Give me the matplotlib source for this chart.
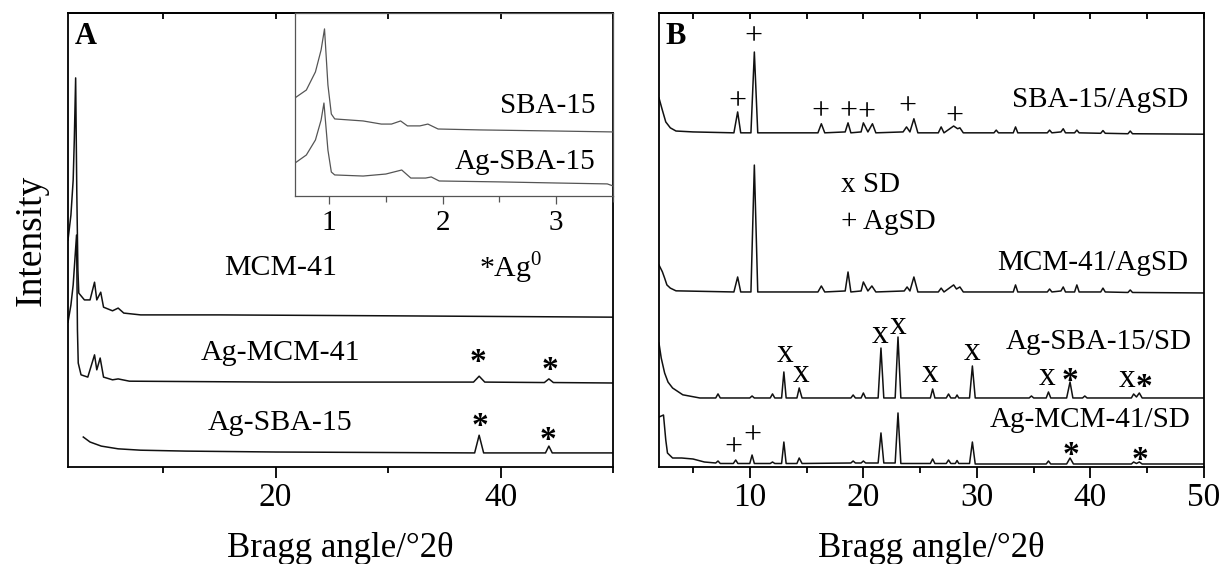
import matplotlib.pyplot as plt
from matplotlib.ticker import MultipleLocator, FixedLocator

plt.rcParams['font.family'] = ['Liberation Serif', 'DejaVu Serif']
plt.rcParams['mathtext.fontset'] = 'custom'
plt.rcParams['mathtext.rm'] = 'Liberation Serif'

# ---- panel A (wide angle, arbitrary intensity units 0-100) ----
a_mcm_x = [1.54, 1.8, 2.0, 2.1, 2.22, 2.32, 2.42, 2.5, 3.0, 3.5, 3.9, 4.1, 4.45, 4.7, 5.5, 6.0, 6.5, 8, 15, 30, 50]
a_mcm_y = [50.0, 55.5, 63.2, 72.0, 85.7, 61.0, 43.4, 38.3, 36.8, 36.8, 40.7, 36.8, 38.5, 35.2, 34.4, 35.0, 33.9, 33.5, 33.5, 33.3, 33.0]

a_agmcm_x = [1.54, 1.8, 2.0, 2.15, 2.3, 2.38, 2.45, 2.7, 3.3, 3.9, 4.1, 4.4, 4.7, 5.5, 6.0, 7, 20,
             37.6, 38.1, 38.6, 43.9, 44.3, 44.7, 50]
a_agmcm_y = [31.9, 35.7, 40.1, 45.6, 51.1, 30.2, 22.9, 20.3, 19.8, 24.7, 21.4, 24.0, 19.8, 19.2, 19.4, 18.9, 18.7,
             18.7, 20.0, 18.7, 18.6, 19.4, 18.6, 18.5]

a_agsba_x = [2.9, 3.5, 4.5, 6, 8, 12, 20, 37.7, 38.1, 38.5, 44.0, 44.3, 44.6, 50]
a_agsba_y = [6.6, 5.5, 4.6, 4.0, 3.7, 3.5, 3.3, 3.1, 7.0, 3.1, 3.1, 4.6, 3.1, 3.1]

# ---- inset (low angle) ----
i_sba_x = [0.7, 0.8, 0.88, 0.93, 0.96, 0.99, 1.02, 1.05, 1.3, 1.46, 1.55, 1.63, 1.69, 1.8, 1.87, 1.96, 2.33, 3.0, 3.5]
i_sba_y = [53.6, 57.9, 67.8, 79.8, 91.3, 60.7, 44.8, 42.1, 41.0, 39.3, 39.3, 41.0, 38.3, 38.3, 39.3, 36.6, 36.1, 35.5, 35.0]

i_agsba_x = [0.7, 0.8, 0.88, 0.93, 0.955, 0.99, 1.02, 1.05, 1.3, 1.5, 1.64, 1.72, 1.85, 1.9, 1.97, 2.5, 3.0, 3.45, 3.5]
i_agsba_y = [18.0, 22.4, 30.6, 41.5, 50.8, 25.1, 13.1, 11.5, 10.9, 12.0, 14.2, 9.8, 9.8, 10.4, 8.2, 7.7, 7.1, 6.6, 5.5]

# ---- panel B ----
b_sbaagsd_x = [2.0, 2.3, 2.6, 3.0, 3.5, 5, 8.6, 8.93, 9.2, 10.1, 10.4, 10.7, 16.0, 16.3, 16.6, 18.4, 18.65, 18.9,
               19.8, 20.0, 20.4, 20.8, 21.1, 23.5, 23.8, 24.1, 24.45, 24.8, 26.6, 26.85, 27.1, 27.95, 28.3, 28.5,
               28.8, 31.5, 31.7, 31.9, 33.2, 33.4, 33.6, 36.2, 36.4, 36.6, 37.4, 37.6, 37.8, 38.6, 38.8, 39.0,
               40.9, 41.1, 41.3, 43.3, 43.5, 43.7, 50]
b_sbaagsd_y = [81.3, 78.6, 76.0, 74.7, 74.0, 73.8, 73.6, 78.2, 73.6, 73.6, 91.4, 73.6, 73.6, 75.6, 73.6, 73.8, 75.8, 73.6,
               73.8, 75.8, 73.8, 75.6, 73.6, 73.8, 74.9, 73.8, 76.7, 73.6, 73.6, 74.9, 73.6, 75.1, 74.5, 74.7,
               73.6, 73.6, 74.2, 73.6, 73.6, 74.9, 73.6, 73.6, 74.2, 73.6, 73.8, 74.5, 73.6, 73.6, 74.2, 73.6,
               73.5, 74.1, 73.5, 73.4, 74.0, 73.4, 73.3]

b_mcmagsd_x = [2.0, 2.3, 2.5, 2.7, 3.0, 3.5, 8.6, 8.93, 9.2, 10.1, 10.4, 10.7, 16.0, 16.3, 16.6, 18.4, 18.65, 18.9,
               19.8, 20.0, 20.4, 20.75, 21.1, 23.6, 23.85, 24.1, 24.45, 24.8, 26.6, 26.85, 27.1, 27.95, 28.2, 28.5,
               28.8, 33.2, 33.4, 33.6, 36.2, 36.4, 36.6, 37.4, 37.6, 37.8, 38.6, 38.8, 39.0, 40.9, 41.1, 41.3,
               43.3, 43.5, 43.7, 50]
b_mcmagsd_y = [44.5, 43.0, 41.6, 40.1, 39.4, 38.8, 38.55, 41.85, 38.55, 38.55, 66.5, 38.55, 38.55, 39.87, 38.55, 38.77, 42.95, 38.55,
               38.77, 40.75, 38.77, 39.87, 38.55, 38.77, 39.65, 38.77, 41.85, 38.55, 38.55, 39.4, 38.55, 40.1, 39.2, 39.65,
               38.55, 38.55, 40.1, 38.55, 38.55, 39.2, 38.55, 38.77, 39.65, 38.55, 38.55, 40.1, 38.55, 38.55, 39.4, 38.55,
               38.44, 38.99, 38.44, 38.33]

b_agsbasd_x = [2.0, 2.2, 2.5, 2.8, 3.2, 4.1, 5.6, 7.0, 7.2, 7.4, 10.0, 10.2, 10.4, 11.8, 12.0, 12.2, 12.8, 13.0, 13.2,
               14.15, 14.35, 14.6, 18.9, 19.1, 19.3, 19.8, 20.0, 20.2, 21.3, 21.55, 21.8, 22.8, 23.05, 23.3,
               25.9, 26.1, 26.3, 27.3, 27.5, 27.7, 28.1, 28.25, 28.4, 29.35, 29.6, 29.85, 34.6, 34.8, 35.0,
               36.1, 36.3, 36.5, 37.9, 38.2, 38.45, 39.3, 39.5, 39.7, 43.6, 43.8, 44.05, 44.3, 44.55, 50]
b_agsbasd_y = [27.3, 24.0, 20.7, 18.7, 17.4, 15.9, 15.2, 15.2, 16.1, 15.2, 15.2, 15.64, 15.2, 15.2, 16.1, 15.2, 15.2, 20.93, 15.2,
               15.2, 17.4, 15.2, 15.2, 15.86, 15.2, 15.2, 16.3, 15.2, 15.2, 26.2, 15.2, 15.2, 28.63, 15.2,
               15.2, 17.18, 15.2, 15.2, 16.08, 15.2, 15.2, 15.86, 15.2, 15.2, 22.25, 15.2, 15.2, 15.64, 15.2,
               15.2, 16.52, 15.2, 15.2, 18.72, 15.2, 15.2, 15.64, 15.2, 15.2, 16.08, 15.42, 16.3, 15.2, 15.2]

b_agmcmsd_x = [2.0, 2.4, 2.6, 2.75, 3.2, 4.0, 5.0, 6.0, 7.0, 7.2, 7.4, 8.55, 8.76, 8.95, 10.0, 10.2, 10.4, 11.8, 12.0,
               12.2, 12.8, 13.0, 13.2, 14.15, 14.35, 14.6, 18.9, 19.1, 19.3, 19.8, 20.0, 20.2, 21.3, 21.55, 21.8,
               22.8, 23.05, 23.3, 25.9, 26.1, 26.3, 27.3, 27.5, 27.7, 28.1, 28.25, 28.4, 29.35, 29.6, 29.85,
               36.1, 36.3, 36.5, 37.9, 38.2, 38.5, 43.6, 43.8, 44.05, 44.3, 44.55, 50]
b_agmcmsd_y = [11.0, 11.45, 5.95, 3.08, 1.98, 1.98, 1.76, 1.1, 0.88, 1.32, 0.77, 0.77, 1.54, 0.77, 0.77, 2.64, 0.77, 0.77, 1.1,
               0.77, 0.77, 5.5, 0.77, 0.77, 1.98, 0.77, 0.88, 1.32, 0.88, 0.88, 1.32, 0.88, 0.88, 7.5, 0.88,
               0.88, 11.9, 0.77, 0.77, 1.76, 0.77, 0.77, 1.54, 0.77, 0.77, 1.43, 0.77, 0.77, 5.5, 0.66,
               0.66, 1.32, 0.66, 0.66, 1.98, 0.66, 0.66, 1.1, 0.77, 1.1, 0.66, 0.66]

# phase markers: (2theta, height)
plus_top = [(8.87, 80.4), (10.28, 94.7), (16.2, 78.2), (18.65, 78.2), (20.3, 78.0), (23.9, 79.3), (28.0, 77.1)]
plus_bot = [(8.6, 4.2), (10.2, 6.8)]
x_marks = [(13.07, 24.9), (14.5, 20.5), (21.5, 29.1), (23.1, 31.1), (25.9, 20.5), (29.6, 25.3), (36.2, 19.8), (43.2, 19.4)]
star_b = [(38.2, 20.7), (44.7, 19.2), (38.3, 4.4), (44.4, 3.3)]
star_a = [(38.0, 24.9), (44.4, 23.1), (38.2, 10.8), (44.2, 7.7)]

LW = 1.1
SP = 1.3
STAR_DROP = 1.8  # the serif asterisk sits high in its box

fig = plt.figure(figsize=(12.23, 5.64), dpi=100)
axA = fig.add_axes([0.0556, 0.172, 0.4456, 0.805])
axB = fig.add_axes([0.5388, 0.172, 0.4457, 0.805])
axI = fig.add_axes([0.2412, 0.6525, 0.26, 0.3245])


def style(ax, major, minor, top_step):
    ax.set_ylim(0, 100)
    ax.set_yticks([])
    for s in ax.spines.values():
        s.set_linewidth(SP)
    ax.xaxis.set_major_locator(major)
    ax.xaxis.set_minor_locator(minor)
    ax.tick_params(axis='x', which='major', direction='out', length=8, width=SP, labelsize=24, pad=3)
    ax.tick_params(axis='x', which='minor', direction='out', length=4, width=SP)
    top = ax.secondary_xaxis('top')
    top.xaxis.set_major_locator(MultipleLocator(top_step))
    top.tick_params(direction='in', length=4, width=SP, labeltop=False)
    top.spines['top'].set_linewidth(SP)
    ax.set_xlabel('Bragg angle/°2θ', fontsize=25, labelpad=14)


# panel A
axA.plot(a_mcm_x, a_mcm_y, color='#111111', lw=LW)
axA.plot(a_agmcm_x, a_agmcm_y, color='#111111', lw=LW)
axA.plot(a_agsba_x, a_agsba_y, color='#111111', lw=LW)
axA.set_xlim(1.54, 50)
style(axA, FixedLocator([20, 40]), FixedLocator([10, 30, 50]), 10)
axA.set_ylabel('Intensity', fontsize=27, labelpad=14)
axA.text(0.012, 0.98, 'A', transform=axA.transAxes, fontsize=22, fontweight='bold', va='top')
axA.text(20.4, 43.8, 'MCM-41', fontsize=21.5, ha='center', va='center')
axA.text(40.9, 43.8, '*Ag$^0$', fontsize=21.5, ha='center', va='center')
axA.text(20.4, 25.1, 'Ag-MCM-41', fontsize=21.5, ha='center', va='center')
axA.text(20.4, 9.7, 'Ag-SBA-15', fontsize=21.5, ha='center', va='center')
for x, y in star_a:
    axA.text(x, y - STAR_DROP, '*', fontsize=24, fontweight='bold', ha='center', va='center')

# inset
axI.patch.set_alpha(0)
axI.plot(i_sba_x, i_sba_y, color='#555555', lw=0.9)
axI.plot(i_agsba_x, i_agsba_y, color='#555555', lw=0.9)
axI.set_xlim(0.7, 3.5)
axI.set_ylim(0, 100)
axI.set_yticks([])
for s in axI.spines.values():
    s.set_linewidth(0.9)
    s.set_color('#555555')
axI.xaxis.set_major_locator(MultipleLocator(1))
axI.xaxis.set_minor_locator(MultipleLocator(0.5))
axI.tick_params(axis='x', which='major', direction='out', length=6, width=0.9, color='#555555', labelsize=21, pad=4)
axI.tick_params(axis='x', which='minor', direction='out', length=4, width=0.9, color='#555555')
axI.text(3.35, 49, 'SBA-15', fontsize=21, ha='right', va='center')
axI.text(3.35, 18.5, 'Ag-SBA-15', fontsize=21, ha='right', va='center')

# panel B
axB.plot(b_sbaagsd_x, b_sbaagsd_y, color='#111111', lw=LW)
axB.plot(b_mcmagsd_x, b_mcmagsd_y, color='#111111', lw=LW)
axB.plot(b_agsbasd_x, b_agsbasd_y, color='#111111', lw=LW)
axB.plot(b_agmcmsd_x, b_agmcmsd_y, color='#111111', lw=LW)
axB.set_xlim(2, 50)
style(axB, MultipleLocator(10), MultipleLocator(5), 5)
axB.text(0.012, 0.98, 'B', transform=axB.transAxes, fontsize=22, fontweight='bold', va='top')
axB.text(48.6, 80.8, 'SBA-15/AgSD', fontsize=21, ha='right', va='center')
axB.text(48.6, 44.9, 'MCM-41/AgSD', fontsize=21, ha='right', va='center')
axB.text(48.9, 27.5, 'Ag-SBA-15/SD', fontsize=21, ha='right', va='center')
axB.text(48.8, 10.3, 'Ag-MCM-41/SD', fontsize=21, ha='right', va='center')
axB.text(18.0, 62.1, 'x SD', fontsize=21, ha='left', va='center')
axB.text(18.0, 54.0, '+ AgSD', fontsize=21, ha='left', va='center')
for x, y in plus_top + plus_bot:
    axB.text(x, y, '+', fontsize=23, ha='center', va='center')
for x, y in x_marks:
    axB.text(x, y, 'x', fontsize=24, ha='center', va='center')
for x, y in star_b:
    axB.text(x, y - STAR_DROP, '*', fontsize=24, fontweight='bold', ha='center', va='center')

fig.savefig('out.png', dpi=100)
